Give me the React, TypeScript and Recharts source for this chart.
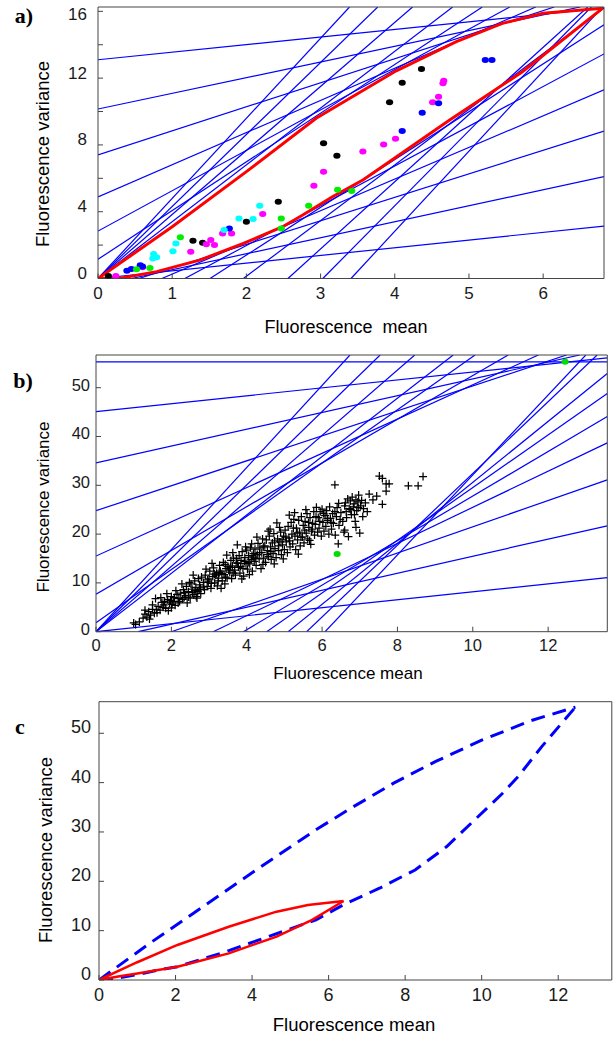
import React from "react";
import { ComposedChart, Line, Scatter, XAxis, YAxis } from "recharts";

// ---------- panel a ----------
const aXTicks = [0, 1, 2, 3, 4, 5, 6];
const aYTicks = [0, 2, 4, 6, 8, 10, 12, 14, 16];
const aYLabelled = [0, 4, 8, 12, 16];

const aRedUpper = [[0, 0], [1, 3.1], [2, 6.4], [2.94, 9.6], [4.02, 12.44], [4.83, 14.18], [5.45, 15.28], [6.0, 15.88], [6.8, 16.18]];
const aRedLower = [[0, 0], [0.34, 0.05], [0.79, 0.41], [1.37, 1.1], [1.96, 2.1], [2.49, 3.1], [2.76, 3.8], [3.16, 4.9], [3.57, 5.9], [3.8, 6.6], [4.74, 9.49], [5.72, 12.38], [6.8, 16.18]];

// constraint lines, [x1, y1, x2, y2]
const aUpperLines = [
  [0, 13.1, 6.82, 16.2], [0, 10.15, 6.5, 16.26], [0, 7.4, 6.15, 16.26], [0, 4.88, 5.9, 16.26],
  [0, 2.84, 5.55, 16.26], [0, 1.15, 5.18, 16.26], [0, 0, 4.78, 16.26], [0, 0, 4.24, 16.26],
  [0, 0, 3.77, 16.26], [0, 0, 3.39, 16.26],
];
const aLowerLines = [
  [0, 0, 6.82, 3.14], [0.45, 0, 6.82, 6.1], [0.55, 0, 6.82, 8.83], [0.86, 0, 6.82, 11.3],
  [1.17, 0, 6.82, 13.45], [1.51, 0, 6.82, 15.2], [1.96, 0, 6.82, 16.2], [2.56, 0, 6.6, 16.26],
  [3.03, 0, 6.65, 16.26], [3.41, 0, 6.8, 16.26],
];

const aBlack = [[0.14, 0.15], [1.28, 2.26], [1.41, 2.14], [2.0, 3.4], [2.43, 4.6], [3.04, 8.1], [3.22, 7.35], [3.93, 10.55], [4.1, 11.72], [4.36, 12.54]];
const aMagenta = [[0.24, 0.15], [0.6, 0.67], [1.25, 1.6], [1.46, 2.05], [1.52, 2.3], [1.57, 2.0], [1.68, 2.7], [1.8, 2.7], [2.22, 3.86], [2.91, 5.56], [3.04, 6.4], [3.57, 7.6], [3.85, 8.03], [4.01, 8.37], [4.51, 10.55], [4.59, 10.89], [4.65, 11.69], [4.66, 11.85]];
const aBlue = [[0.39, 0.47], [0.45, 0.57], [0.57, 0.79], [0.6, 0.72], [1.77, 3.0], [4.1, 8.83], [4.37, 9.93], [4.59, 10.49], [5.22, 13.08], [5.31, 13.08]];
const aGreen = [[0.52, 0.55], [0.7, 0.63], [1.11, 2.47], [2.47, 3.6], [2.47, 3.0], [2.84, 4.36], [3.23, 5.32], [3.42, 5.24]];
const aCyan = [[0.75, 1.47], [0.79, 1.27], [0.74, 1.2], [1.01, 1.63], [1.05, 2.1], [1.7, 2.9], [1.9, 3.6], [2.09, 3.56], [2.18, 4.36]];

// ---------- panel b ----------
const bXTicks = [0, 2, 4, 6, 8, 10, 12];
const bYTicks = [0, 10, 20, 30, 40, 50];

const bUpperLines = [
  [0, 55.3, 13.57, 55.3], [0, 45.1, 13.57, 56.1], [0, 34.6, 12.84, 56.7], [0, 24.8, 12.49, 56.7],
  [0, 15.5, 11.74, 56.7], [0, 7.7, 10.94, 56.7], [0, 1.85, 10.06, 56.7], [0, 0, 9.48, 56.7],
  [0, 0, 8.46, 56.7], [0, 0, 7.54, 56.7], [0, 0, 6.74, 56.7],
];
const bLowerLines = [
  [0, 0, 13.57, 11.1], [1.12, 0, 13.57, 21.7], [2.0, 0, 13.57, 31.1], [3.11, 0, 13.57, 38.7],
  [3.91, 0, 13.57, 44.1], [4.53, 0, 13.57, 48.8], [5.1, 0, 13.57, 52.9], [5.59, 0, 13.3, 56.7],
  [6.08, 0, 13.0, 56.7],
];
const bGreen = [[6.4, 15.9], [12.45, 55.3]];

const bCrosses = [
  [1.0, 1.8], [1.05, 1.5], [1.15, 2.0], [1.3, 3.6], [1.35, 3.0], [1.4, 4.1], [1.45, 3.4], [1.5, 4.6], [1.3, 4.4], [1.55, 3.8], [1.6, 4.5], [1.58, 6.8], [1.5, 5.5], [1.42, 2.6], [1.25, 2.8],
  [1.65, 5.2], [1.7, 4.4], [1.75, 6.0], [1.8, 5.5], [1.85, 4.8], [1.9, 6.6], [1.95, 5.9], [2.0, 7.2], [2.05, 6.2], [2.1, 5.4], [2.15, 7.6], [2.2, 6.8], [1.72, 7.0], [1.88, 7.8], [2.0, 4.9], [2.12, 8.4], [2.18, 5.9], [1.98, 6.4], [1.82, 6.2], [2.08, 7.0], [1.62, 3.9], [1.78, 5.0], [1.92, 4.3], [2.02, 5.6],
  [2.25, 7.9], [2.3, 6.6], [2.32, 8.6], [2.38, 7.4], [2.4, 9.3], [2.45, 8.2], [2.5, 6.9], [2.52, 9.8], [2.55, 8.7], [2.6, 7.6], [2.62, 10.4], [2.65, 9.1], [2.7, 8.2], [2.72, 10.9], [2.75, 9.6], [2.78, 7.8], [2.8, 11.2], [2.28, 9.8], [2.42, 5.9], [2.58, 11.6], [2.68, 6.9], [2.35, 8.0], [2.48, 10.1], [2.63, 8.4], [2.77, 9.0], [2.22, 6.2], [2.34, 7.0], [2.46, 7.1], [2.56, 8.0], [2.66, 7.2], [2.74, 8.6],
  [2.85, 10.1], [2.88, 8.6], [2.9, 11.6], [2.95, 9.3], [3.0, 10.8], [3.02, 12.4], [3.05, 8.9], [3.1, 11.3], [3.12, 13.1], [3.15, 10.0], [3.2, 12.0], [3.22, 9.4], [3.25, 11.0], [3.28, 13.6], [3.3, 12.4], [3.35, 10.4], [3.38, 14.2], [3.4, 11.7], [3.42, 9.8], [3.45, 12.9], [3.48, 11.0], [3.5, 13.4], [2.92, 12.8], [3.08, 14.0], [3.18, 11.6], [3.32, 8.9], [3.47, 15.7], [2.98, 10.2], [3.27, 12.1], [3.43, 13.8], [2.86, 9.2], [2.96, 10.6], [3.06, 9.9], [3.14, 11.8], [3.24, 10.4], [3.34, 11.9], [3.44, 11.2],
  [3.55, 12.2], [3.58, 14.6], [3.6, 10.9], [3.62, 13.5], [3.65, 15.1], [3.68, 12.6], [3.7, 11.6], [3.72, 14.1], [3.75, 17.8], [3.78, 13.2], [3.8, 15.6], [3.82, 12.0], [3.85, 14.6], [3.88, 16.4], [3.9, 13.0], [3.92, 11.4], [3.95, 15.2], [3.98, 14.0], [4.0, 16.7], [4.02, 12.8], [4.05, 15.6], [4.08, 13.9], [4.1, 17.2], [4.12, 14.8], [4.13, 18.0], [4.15, 12.4], [4.18, 16.0], [4.2, 14.4], [3.63, 16.2], [3.87, 10.8], [3.57, 13.2], [3.97, 17.4], [4.07, 11.7], [3.73, 15.0], [4.17, 15.3], [3.52, 12.6], [3.64, 12.0], [3.76, 14.0], [3.84, 13.4], [3.94, 14.4], [4.04, 14.2], [4.14, 15.6],
  [4.22, 16.9], [4.25, 13.6], [4.28, 15.8], [4.3, 18.1], [4.33, 14.9], [4.35, 17.2], [4.38, 12.9], [4.4, 16.2], [4.42, 19.0], [4.45, 15.1], [4.48, 17.6], [4.5, 14.2], [4.52, 18.8], [4.55, 16.6], [4.58, 15.4], [4.6, 19.6], [4.62, 21.0], [4.63, 17.4], [4.65, 14.8], [4.68, 18.2], [4.7, 16.0], [4.72, 20.1], [4.75, 17.0], [4.78, 15.2], [4.8, 22.3], [4.82, 19.0], [4.85, 16.6], [4.88, 18.4], [4.9, 20.4], [4.92, 15.8], [4.95, 17.8], [4.98, 19.6], [5.0, 16.8], [4.27, 19.4], [4.43, 13.8], [4.57, 20.6], [4.73, 13.9], [4.87, 21.4], [4.97, 14.9], [4.24, 15.0], [4.34, 16.2], [4.44, 17.4], [4.54, 15.8], [4.64, 16.4], [4.74, 18.6], [4.84, 17.6], [4.94, 18.8],
  [5.02, 20.8], [5.05, 18.4], [5.08, 16.2], [5.1, 21.6], [5.12, 19.2], [5.15, 17.4], [5.18, 22.4], [5.2, 20.0], [5.22, 18.0], [5.25, 23.0], [5.28, 19.6], [5.3, 16.8], [5.32, 21.2], [5.35, 18.8], [5.38, 22.8], [5.4, 20.4], [5.42, 17.6], [5.45, 23.6], [5.48, 19.4], [5.5, 21.8], [5.52, 18.2], [5.55, 22.6], [5.58, 20.2], [5.6, 24.2], [5.62, 19.0], [5.65, 21.4], [5.68, 23.4], [5.7, 17.9], [5.72, 20.6], [5.75, 22.2], [5.78, 24.6], [5.8, 19.8], [5.13, 23.9], [5.37, 15.9], [5.57, 25.0], [5.27, 24.4], [5.67, 18.7], [5.04, 19.4], [5.14, 18.6], [5.24, 21.2], [5.34, 20.2], [5.44, 19.4], [5.54, 20.8], [5.64, 22.4], [5.74, 21.0],
  [5.82, 22.0], [5.85, 25.5], [5.88, 20.4], [5.9, 23.4], [5.92, 21.2], [5.95, 24.6], [5.98, 19.6], [6.0, 25.1], [6.02, 22.4], [6.05, 20.6], [6.08, 23.8], [6.1, 21.6], [6.12, 24.8], [6.15, 22.8], [6.18, 20.0], [6.2, 25.6], [6.22, 23.2], [6.25, 21.0], [6.28, 24.2], [6.3, 22.2], [6.34, 30.1], [6.35, 19.8], [6.38, 23.6], [6.4, 25.4], [6.43, 18.0], [6.44, 26.3], [6.45, 21.8], [6.5, 24.4], [6.55, 22.6], [6.58, 20.4], [6.6, 25.8], [5.84, 23.6], [5.94, 22.6], [6.04, 24.2], [6.14, 23.2], [6.24, 22.4], [6.34, 24.6], [6.48, 23.0],
  [6.62, 26.4], [6.65, 23.4], [6.68, 27.2], [6.7, 19.5], [6.72, 25.2], [6.75, 26.8], [6.78, 24.0], [6.8, 27.6], [6.83, 25.6], [6.85, 26.2], [6.88, 22.6], [6.9, 27.0], [6.92, 24.8], [6.95, 26.6], [6.97, 28.0], [7.0, 20.2], [7.02, 25.8], [7.05, 26.9], [7.08, 23.6], [7.1, 25.2], [7.15, 26.4], [7.2, 24.6], [6.9, 21.4], [6.6, 20.8], [6.64, 24.6], [6.76, 25.0], [6.86, 24.0], [6.96, 25.4],
  [7.25, 28.2], [7.52, 31.9], [7.6, 31.4], [7.7, 30.3], [7.78, 30.3], [7.7, 28.8], [7.6, 26.1], [7.35, 27.0], [8.29, 29.9], [8.55, 29.9], [8.68, 31.8], [7.45, 27.8],
];

// ---------- panel c ----------
const cXTicks = [0, 2, 4, 6, 8, 10, 12];
const cYTicks = [0, 10, 20, 30, 40, 50];
const cBlueUpper = [[0, 0], [1.3, 7.3], [2.8, 15.3], [4.2, 22.8], [5.7, 30.6], [6.6, 34.9], [7.7, 39.9], [8.8, 44.3], [10.0, 48.6], [11.3, 52.6], [12.45, 55.3]];
const cBlueLower = [[0, 0], [0.5, 0.4], [1.0, 1.1], [1.53, 2.0], [2.05, 2.7], [3.19, 5.4], [4.43, 8.8], [5.67, 12.2], [6.4, 15.3], [7.33, 18.6], [8.26, 22.3], [9.08, 27], [9.81, 32.4], [10.54, 37.8], [10.95, 41.2], [11.57, 47.3], [12.45, 55.3]];
const cRedUpper = [[0, 0], [1.0, 3.6], [2.05, 7.1], [3.39, 10.8], [4.64, 13.85], [5.46, 15.2], [6.39, 16.0]];
const cRedLower = [[0, 0], [0.5, 0.7], [1.0, 1.3], [2.05, 2.7], [3.39, 5.4], [4.64, 8.8], [5.57, 12.2], [6.39, 16.0]];

const SANS = "'Liberation Sans', Arial, Helvetica, sans-serif";
const AXIS = "#444";
const BLUE = "#0000ff";
const RED = "#ff0000";

const pts = (arr: number[][]) => arr.map(([x, y]) => ({ x, y }));
const seg = ([x1, y1, x2, y2]: number[]) => [{ x: x1, y: y1 }, { x: x2, y: y2 }];

const makeTick = (size: number, dx: number, dy: number, anchor: string, only?: number[], shift?: Record<number, number>) => (props: any) => {
  const { x, y, payload } = props;
  if (only && !only.includes(payload.value)) return <g />;
  const extra = shift && shift[payload.value] ? shift[payload.value] : 0;
  return (
    <text x={x + dx} y={y + dy + extra} textAnchor={anchor} dominantBaseline="central" fontSize={size} fontFamily={SANS} fill="#1a1a1a">
      {payload.value}
    </text>
  );
};

const dot = (color: string) => (props: any) => <ellipse cx={props.cx} cy={props.cy} rx={3.6} ry={3} fill={color} />;
const cross = (props: any) => (
  <path d={`M${props.cx - 4},${props.cy}h8M${props.cx},${props.cy - 4}v8`} stroke="#000" strokeWidth={1.25} fill="none" />
);

type FrameProps = {
  w: number; h: number; margin: any; xMax: number; yMax: number; xTicks: number[]; yTicks: number[];
  font: number; xdy: number; ydx: number; ydy: number; yOnly?: number[]; yShift?: Record<number, number>; children: React.ReactNode;
};

// axes get a size of 1px (0 makes recharts skip them), so margins are reduced by 1
function Frame(p: FrameProps) {
  const m = { top: p.margin.top - 1, right: p.margin.right - 1, bottom: p.margin.bottom - 1, left: p.margin.left - 1 };
  const common = { type: "number" as const, allowDataOverflow: true, interval: 0 as const, tickSize: -5, tickMargin: 0, axisLine: { stroke: AXIS }, tickLine: { stroke: AXIS } };
  return (
    <ComposedChart width={p.w} height={p.h} margin={m}>
      <XAxis {...common} xAxisId={0} dataKey="x" domain={[0, p.xMax]} ticks={p.xTicks} height={1} tick={makeTick(p.font, 0, p.xdy, "middle")} />
      <XAxis {...common} xAxisId="t" orientation="top" domain={[0, p.xMax]} ticks={p.xTicks} height={1} tick={false} />
      <YAxis {...common} yAxisId={0} domain={[0, p.yMax]} ticks={p.yTicks} width={1} tick={makeTick(p.font, p.ydx, p.ydy, "end", p.yOnly, p.yShift)} />
      <YAxis {...common} yAxisId="r" orientation="right" domain={[0, p.yMax]} ticks={p.yTicks} width={1} tick={false} />
      {p.children}
    </ComposedChart>
  );
}

const lineEl = (key: string, data: any[], color: string, width: number, dash?: string) => (
  <Line key={key} data={data} dataKey="y" type="linear" stroke={color} strokeWidth={width} strokeDasharray={dash}
    dot={false} activeDot={false} isAnimationActive={false} />
);
const scatterEl = (key: string, data: number[][], shape: any) => (
  <Scatter key={key} data={pts(data)} dataKey="y" shape={shape} isAnimationActive={false} />
);

function Text({ x, y, size, children, rotate, serif }: any) {
  return (
    <div style={{
      position: "absolute", left: x, top: y, transform: `translate(-50%, -50%)${rotate ? " rotate(-90deg)" : ""}`,
      whiteSpace: "pre", fontSize: size, fontFamily: serif ? "'Liberation Serif', 'Times New Roman', serif" : SANS,
      fontWeight: serif ? 700 : 400, color: "#000", lineHeight: 1,
    }}>{children}</div>
  );
}

export default function App() {
  return (
    <div style={{ position: "absolute", left: 0, top: 0, width: 616, height: 1040, background: "#fff", overflow: "hidden" }}>
      <div style={{ position: "absolute", left: 0, top: 0 }}>
        <Frame w={616} h={330} margin={{ top: 7, right: 12, bottom: 51.5, left: 98 }} xMax={6.82} yMax={16.26}
          xTicks={aXTicks} yTicks={aYTicks} yOnly={aYLabelled} yShift={{ 16: 8 }} font={17} xdy={20} ydx={-16} ydy={-5}>
          {aUpperLines.map((l, i) => lineEl("au" + i, seg(l), BLUE, 1.2))}
          {aLowerLines.map((l, i) => lineEl("al" + i, seg(l), BLUE, 1.2))}
          {lineEl("ar1", pts(aRedUpper), RED, 3)}
          {lineEl("ar2", pts(aRedLower), RED, 3)}
          {scatterEl("sk", aBlack, dot("#000"))}
          {scatterEl("sm", aMagenta, dot("#ff00ff"))}
          {scatterEl("sb", aBlue, dot("#0000ff"))}
          {scatterEl("sg", aGreen, dot("#00ee00"))}
          {scatterEl("sc", aCyan, dot("#00ffff"))}
        </Frame>
      </div>
      <div style={{ position: "absolute", left: 0, top: 340 }}>
        <Frame w={616} h={330} margin={{ top: 15, right: 8.7, bottom: 38.3, left: 96 }} xMax={13.57} yMax={56.7}
          xTicks={bXTicks} yTicks={bYTicks} font={16.5} xdy={18.3} ydx={-11} ydy={-3}>
          {bUpperLines.map((l, i) => lineEl("bu" + i, seg(l), BLUE, 1.2))}
          {bLowerLines.map((l, i) => lineEl("bl" + i, seg(l), BLUE, 1.2))}
          {scatterEl("bx", bCrosses, cross)}
          {scatterEl("bg", bGreen, dot("#00dd00"))}
        </Frame>
      </div>
      <div style={{ position: "absolute", left: 0, top: 690 }}>
        <Frame w={616} h={350} margin={{ top: 11.7, right: 4.2, bottom: 60, left: 99 }} xMax={13.4} yMax={56.4}
          xTicks={cXTicks} yTicks={cYTicks} font={18} xdy={20} ydx={-13} ydy={-6}>
          {lineEl("cbu", pts(cBlueUpper), BLUE, 3, "14 8")}
          {lineEl("cbl", pts(cBlueLower), BLUE, 3, "14 8")}
          {lineEl("cru", pts(cRedUpper), RED, 2.5)}
          {lineEl("crl", pts(cRedLower), RED, 2.5)}
        </Frame>
      </div>

      <Text x={24} y={16} size={22} serif>a)</Text>
      <Text x={23} y={381} size={22} serif>b)</Text>
      <Text x={20} y={727} size={22} serif>c</Text>

      <Text x={346} y={327} size={18}>{"Fluorescence  mean"}</Text>
      <Text x={43} y={154} size={18.5} rotate>Fluorescence variance</Text>
      <Text x={348} y={673} size={17}>Fluorescence mean</Text>
      <Text x={43} y={507} size={17} rotate>Fluorescence variance</Text>
      <Text x={354} y={1025} size={18.5}>Fluorescence mean</Text>
      <Text x={46} y={850} size={18.5} rotate>Fluorescence variance</Text>
    </div>
  );
}
